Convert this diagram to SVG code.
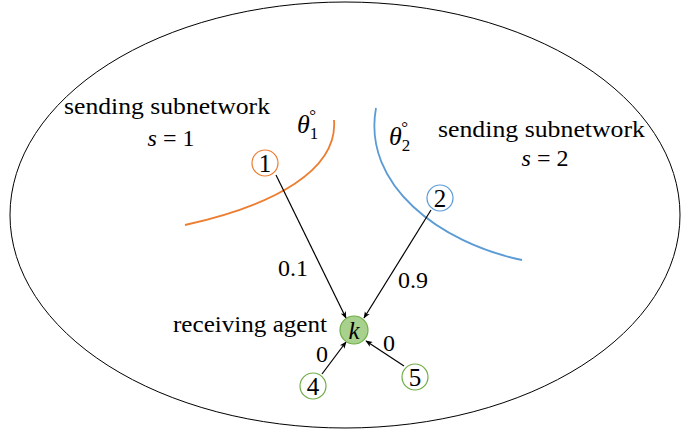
<svg xmlns="http://www.w3.org/2000/svg" width="681" height="431" viewBox="0 0 681 431">
<style>
.t{font-family:'Liberation Serif',serif}
.it{font-style:italic}
.lbl{text-anchor:middle}
.edge{stroke:#000;stroke-width:1.2;fill:none;marker-end:url(#ah)}
.node{fill:#fff;stroke-width:1.2}
</style>
<defs>
<marker id="ah" viewBox="0 0 10 10" refX="9" refY="5" markerWidth="7" markerHeight="7" orient="auto" markerUnits="userSpaceOnUse">
<path d="M0,1 L10,5 L0,9 L2.5,5 z" fill="#000"/>
</marker>
</defs>
<rect width="681" height="431" fill="#fff"/>
<ellipse cx="345" cy="215" rx="335" ry="213" fill="none" stroke="#000" stroke-width="1"/>
<path d="M334,120 C338,170 275,205 185,225" fill="none" stroke="#ED7D31" stroke-width="1.8"/>
<path d="M376,108 C362,185 440,243 522,260" fill="none" stroke="#5B9BD5" stroke-width="1.8"/>
<g class="t" font-family="Liberation Serif, serif" font-size="24">
<text x="64" y="114" textLength="206" lengthAdjust="spacingAndGlyphs">sending subnetwork</text>
<text x="171" y="146" class="lbl"><tspan class="it">s</tspan> = 1</text>
<text x="438" y="137" textLength="207" lengthAdjust="spacingAndGlyphs">sending subnetwork</text>
<text x="545" y="166" class="lbl"><tspan class="it">s</tspan> = 2</text>
<text x="297" y="133" class="it" font-size="26">θ<tspan font-size="17" dy="6" font-style="normal">1</tspan><tspan font-size="17" dx="-9" dy="-18" font-style="normal">°</tspan></text>
<text x="389" y="145" class="it" font-size="26">θ<tspan font-size="17" dy="6" font-style="normal">2</tspan><tspan font-size="17" dx="-9" dy="-18" font-style="normal">°</tspan></text>
<text x="173" y="332" textLength="154" lengthAdjust="spacingAndGlyphs">receiving agent</text>
</g>
<g id="connectors" class="t" font-family="Liberation Serif, serif" font-size="24">
<line class="edge" x1="276" y1="175" x2="346" y2="318"/>
<line class="edge" x1="431" y1="210" x2="364" y2="318"/>
<line class="edge" x1="322" y1="374" x2="346" y2="342"/>
<line class="edge" x1="404" y1="366" x2="366" y2="341"/>
<text x="293" y="276" class="lbl">0.1</text>
<text x="413" y="288" class="lbl">0.9</text>
<text x="322" y="362" class="lbl">0</text>
<text x="389" y="351" class="lbl">0</text>
</g>
<g class="t" font-family="Liberation Serif, serif" font-size="25">
<g id="node1"><circle class="node" cx="265" cy="163" r="13" stroke="#ED7D31"/><text x="265" y="171.5" class="lbl">1</text></g>
<g id="node2"><circle class="node" cx="440" cy="198" r="13" stroke="#5B9BD5"/><text x="440" y="206.5" class="lbl">2</text></g>
<g id="nodek"><circle cx="354" cy="330" r="14" fill="#A9D18E" stroke="#70AD47" stroke-width="1.2"/><text x="354" y="338.5" class="lbl it">k</text></g>
<g id="node4"><circle class="node" cx="313" cy="386" r="13" stroke="#70AD47"/><text x="313" y="394.5" class="lbl">4</text></g>
<g id="node5"><circle class="node" cx="415" cy="377" r="13" stroke="#70AD47"/><text x="415" y="385.5" class="lbl">5</text></g>
</g>
</svg>
